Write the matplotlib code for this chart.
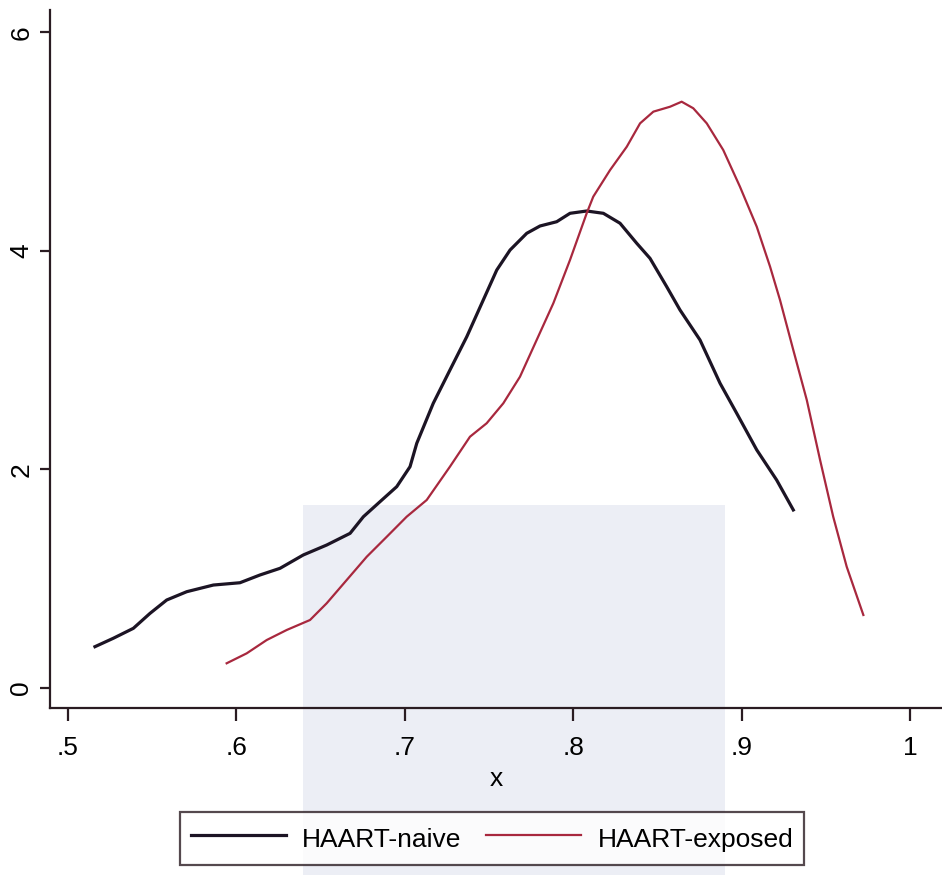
import matplotlib
matplotlib.use("Agg")
import matplotlib.pyplot as plt
from matplotlib.patches import Rectangle

plt.rcParams['font.family'] = ['Liberation Sans', 'DejaVu Sans']

# kernel density estimates
naive_x = [0.5160, 0.5269, 0.5388, 0.5487, 0.5586, 0.5705, 0.5863, 0.6021, 0.6140,
           0.6259, 0.6397, 0.6536, 0.6675, 0.6754, 0.6853, 0.6952, 0.7031, 0.7071,
           0.7169, 0.7268, 0.7368, 0.7466, 0.7546, 0.7625, 0.7724, 0.7803, 0.7902,
           0.7981, 0.8080, 0.8179, 0.8278, 0.8377, 0.8456, 0.8555, 0.8634, 0.8753,
           0.8872, 0.8971, 0.9090, 0.9208, 0.9307]
naive_y = [0.378, 0.455, 0.546, 0.683, 0.805, 0.881, 0.942, 0.963, 1.034,
           1.095, 1.217, 1.308, 1.415, 1.567, 1.705, 1.842, 2.025, 2.239,
           2.605, 2.909, 3.214, 3.550, 3.824, 4.007, 4.160, 4.227, 4.266,
           4.343, 4.364, 4.343, 4.252, 4.069, 3.931, 3.672, 3.459, 3.184,
           2.788, 2.513, 2.178, 1.903, 1.629]

exposed_x = [0.5942, 0.6061, 0.6180, 0.6299, 0.6437, 0.6536, 0.6655, 0.6774, 0.6893,
             0.7011, 0.7130, 0.7268, 0.7387, 0.7486, 0.7585, 0.7684, 0.7783, 0.7882,
             0.7981, 0.8080, 0.8119, 0.8219, 0.8318, 0.8397, 0.8476, 0.8575, 0.8644,
             0.8713, 0.8793, 0.8891, 0.8990, 0.9090, 0.9169, 0.9228, 0.9307, 0.9387,
             0.9466, 0.9544, 0.9624, 0.9723]
exposed_y = [0.226, 0.317, 0.439, 0.531, 0.622, 0.775, 0.988, 1.201, 1.384,
             1.567, 1.720, 2.025, 2.299, 2.422, 2.605, 2.848, 3.184, 3.520,
             3.916, 4.343, 4.495, 4.739, 4.952, 5.166, 5.273, 5.318, 5.364,
             5.304, 5.166, 4.922, 4.587, 4.220, 3.855, 3.550, 3.092, 2.635,
             2.086, 1.567, 1.110, 0.668]

x_ticks = [0.5, 0.6, 0.7, 0.8, 0.9, 1.0]
x_labels = ['.5', '.6', '.7', '.8', '.9', '1']
y_ticks = [0, 2, 4, 6]
y_labels = ['0', '2', '4', '6']

axis_col = '#2a1c22'
naive_col = '#1c1424'
exposed_col = '#a8283e'

fig = plt.figure(figsize=(9.42, 8.75), dpi=100)
ax = fig.add_axes([50 / 942, 1 - 708 / 875, 892 / 942, 698 / 875])
ax.set_facecolor('none')

# pale scanned watermark block
ax.add_patch(Rectangle((303 / 942, 0), 422 / 942, 370 / 875, transform=fig.transFigure,
                       facecolor='#eceef5', edgecolor='none', clip_on=False, zorder=0))

ax.plot(naive_x, naive_y, color=naive_col, lw=2.3, label='HAART-naive', zorder=3)
ax.plot(exposed_x, exposed_y, color=exposed_col, lw=1.6, label='HAART-exposed', zorder=3)

ax.set_xlim(0.4893, 1.019)
ax.set_ylim(-0.183, 6.203)

for side in ['top', 'right']:
    ax.spines[side].set_visible(False)
for side in ['left', 'bottom']:
    ax.spines[side].set_color(axis_col)
    ax.spines[side].set_linewidth(1.6)

ax.set_xticks(x_ticks)
ax.set_xticklabels(x_labels)
ax.set_yticks(y_ticks)
ax.set_yticklabels(y_labels, rotation=90, va='center')
ax.tick_params(axis='x', direction='out', length=9, width=1.6, color=axis_col,
               labelsize=19, pad=11)
ax.tick_params(axis='y', direction='out', length=7, width=1.6, color=axis_col,
               labelsize=19, pad=5)
ax.set_xlabel('x', fontsize=19, labelpad=5)

leg = ax.legend(loc='upper center', bbox_to_anchor=(0.4955, -0.149), ncol=2,
                fontsize=19, frameon=True, fancybox=False, handlelength=3.6,
                handleheight=1.5, columnspacing=0.95, handletextpad=0.62,
                borderpad=0.4, borderaxespad=0)
leg.get_frame().set_edgecolor(axis_col)
leg.get_frame().set_linewidth(1.6)

fig.savefig('out.png', dpi=100)
